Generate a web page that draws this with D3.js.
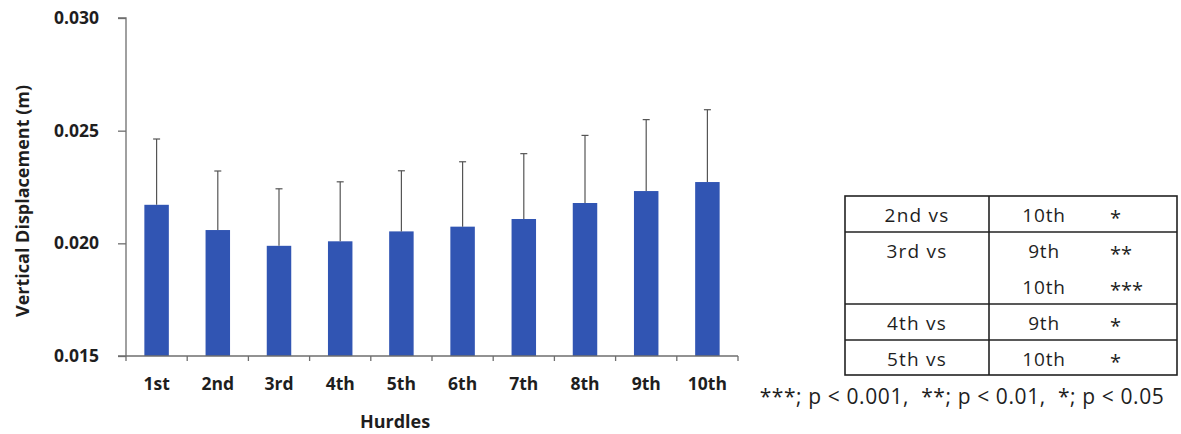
<!DOCTYPE html>
<html>
<head>
<meta charset="utf-8">
<script src="https://cdn.jsdelivr.net/npm/d3@7"></script>
<style>
  html, body { margin: 0; padding: 0; background: #fff; }
  svg { display: block; }
  .lbl { font-family: "Open Sans", Lato, sans-serif; }
  .pre { white-space: pre; }
</style>
</head>
<body>
<svg id="chart" width="1181" height="434"></svg>
<script>
// Mean vertical displacement per hurdle with SD (upper whisker only)
const hurdles = ["1st", "2nd", "3rd", "4th", "5th", "6th", "7th", "8th", "9th", "10th"];
const means = [0.02171, 0.02059, 0.01989, 0.02009, 0.02053, 0.02074, 0.02108, 0.02179, 0.02232, 0.02272];
const sds = [0.00292, 0.00262, 0.00253, 0.00264, 0.00269, 0.00288, 0.00290, 0.00300, 0.00317, 0.00321];
const yTicks = [0.015, 0.020, 0.025, 0.030];

// Post-hoc comparison table
const compLeft = ["2nd vs", "3rd vs", "4th vs", "5th vs"];
const compRight = [["10th"], ["9th", "10th"], ["9th"], ["10th"]];
const compSig = [["*"], ["**", "***"], ["*"], ["*"]];
const footnote = "***; p < 0.001,  **; p < 0.01,  *; p < 0.05";

const svg = d3.select("#chart");
const m = { left: 126, top: 18, right: 738, bottom: 356 };

const x = d3.scaleBand().domain(hurdles).range([m.left, m.right]).paddingInner(0.6).paddingOuter(0.3);
const y = d3.scaleLinear().domain([0.015, 0.030]).range([m.bottom, m.top]);

const axisColor = "#6e6e6e";
const ink = "#1e1e1e";

// bars
svg.append("g").selectAll("rect").data(hurdles).join("rect")
  .attr("x", d => x(d))
  .attr("width", x.bandwidth())
  .attr("y", (d, i) => y(means[i]))
  .attr("height", (d, i) => y(0.015) - y(means[i]))
  .attr("fill", "#3155b3");

// upper error whiskers
const eg = svg.append("g").attr("stroke", "#555").attr("stroke-width", 1.2);
hurdles.forEach((h, i) => {
  const cx = x(h) + x.bandwidth() / 2;
  eg.append("line").attr("x1", cx).attr("x2", cx).attr("y1", y(means[i])).attr("y2", y(means[i] + sds[i]));
  eg.append("line").attr("x1", cx - 3.5).attr("x2", cx + 3.5).attr("y1", y(means[i] + sds[i])).attr("y2", y(means[i] + sds[i]));
});

// y axis
const yAxis = svg.append("g").attr("transform", `translate(${m.left},0)`)
  .call(d3.axisLeft(y).tickValues(yTicks).tickFormat(d3.format(".3f")).tickSize(8).tickPadding(19));
yAxis.select(".domain").attr("stroke", axisColor).attr("stroke-width", 1.3).attr("d", `M-8,${m.top}H0V${m.bottom}`);
yAxis.selectAll(".tick line").attr("stroke", axisColor).attr("stroke-width", 1.3);
yAxis.selectAll(".tick text").attr("class", "lbl").attr("font-size", 17.5).attr("font-weight", "bold").attr("fill", ink);

// x axis: ticks at category boundaries
const xg = svg.append("g");
xg.append("line").attr("x1", m.left - 8).attr("x2", m.right).attr("y1", m.bottom).attr("y2", m.bottom)
  .attr("stroke", axisColor).attr("stroke-width", 1.3);
d3.range(hurdles.length + 1).forEach(k => {
  const tx = m.left + k * (m.right - m.left) / hurdles.length;
  xg.append("line").attr("x1", tx).attr("x2", tx).attr("y1", m.bottom).attr("y2", m.bottom + 5)
    .attr("stroke", axisColor).attr("stroke-width", 1.3);
});
xg.selectAll("text").data(hurdles).join("text")
  .attr("class", "lbl")
  .attr("x", d => x(d) + x.bandwidth() / 2)
  .attr("y", 390)
  .attr("text-anchor", "middle")
  .attr("font-size", 17.5).attr("font-weight", "bold").attr("fill", ink)
  .text(d => d);

// axis titles
svg.append("text").attr("class", "lbl").attr("x", 395).attr("y", 428).attr("text-anchor", "middle")
  .attr("font-size", 18).attr("font-weight", "bold").attr("fill", ink).text("Hurdles");
svg.append("text").attr("class", "lbl")
  .attr("transform", "translate(29,201) rotate(-90)").attr("text-anchor", "middle")
  .attr("font-size", 18).attr("font-weight", "bold").attr("fill", ink).text("Vertical Displacement (m)");

// comparison table
const tLeft = 845, tMid = 989, tRight = 1177, tTop = 196;
const rowH = [36, 72, 36, 35];
const tg = svg.append("g");
let yy = tTop;
const rowTops = [];
rowH.forEach(h => { rowTops.push(yy); yy += h; });
const tBottom = yy;
tg.append("rect").attr("x", tLeft).attr("y", tTop).attr("width", tRight - tLeft).attr("height", tBottom - tTop)
  .attr("fill", "none").attr("stroke", "#222").attr("stroke-width", 1.6);
tg.append("line").attr("x1", tMid).attr("x2", tMid).attr("y1", tTop).attr("y2", tBottom).attr("stroke", "#222").attr("stroke-width", 1.6);
rowTops.slice(1).forEach(ry => {
  tg.append("line").attr("x1", tLeft).attr("x2", tRight).attr("y1", ry).attr("y2", ry).attr("stroke", "#222").attr("stroke-width", 1.6);
});
compLeft.forEach((t, i) => {
  const base = rowTops[i] + 26;
  tg.append("text").attr("class", "lbl").attr("x", (tLeft + tMid) / 2).attr("y", base).attr("text-anchor", "middle")
    .attr("font-size", 19).attr("letter-spacing", 1.2).attr("fill", ink).text(t);
  compRight[i].forEach((r, j) => {
    tg.append("text").attr("class", "lbl").attr("x", 1044).attr("y", base + j * 36).attr("text-anchor", "middle")
      .attr("font-size", 19).attr("letter-spacing", 0.8).attr("fill", ink).text(r);
    tg.append("text").attr("class", "lbl").attr("x", 1110).attr("y", base + j * 36 + 3).attr("text-anchor", "start")
      .attr("font-size", 20).attr("fill", ink).text(compSig[i][j]);
  });
});
svg.append("text").attr("class", "lbl pre").attr("x", 962).attr("y", 404).attr("text-anchor", "middle")
  .attr("font-size", 21).attr("letter-spacing", 0.6).attr("fill", ink).text(footnote);
</script>
</body>
</html>
